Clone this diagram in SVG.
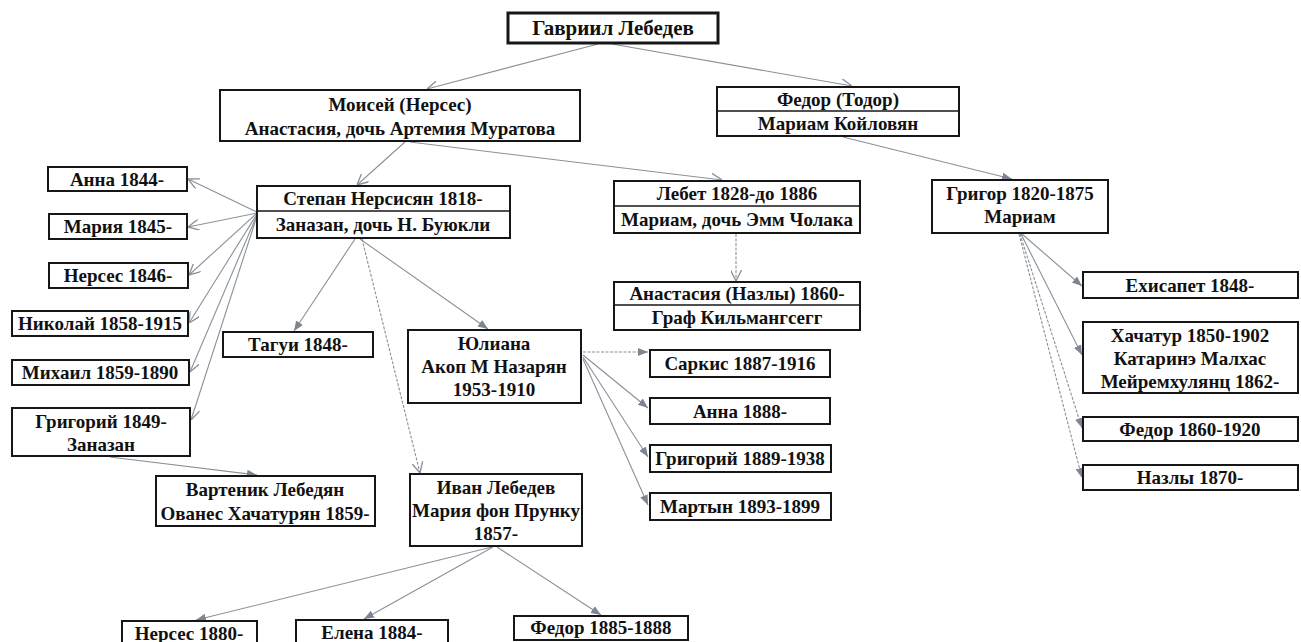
<svg xmlns="http://www.w3.org/2000/svg" width="1301" height="642" viewBox="0 0 1301 642">
  <style>
    .box { fill: #ffffff; stroke: #161616; stroke-width: 2; }
    .div { stroke: #161616; stroke-width: 1.6; }
    .t { font-family: "Liberation Serif", "Times New Roman", serif; font-weight: bold; font-size: 19px; fill: #111111; text-anchor: middle; }
    .big { font-size: 21px; }
    .c { fill: none; stroke: #8a919c; stroke-width: 1.1; }
    .open { marker-end: url(#openHead); }
    .fill { marker-end: url(#fillHead); }
    .dash { stroke-dasharray: 3 1.5; }
  </style>
  <defs>
    <marker id="openHead" viewBox="0 0 10 10" refX="10" refY="5" markerWidth="11" markerHeight="11" markerUnits="userSpaceOnUse" orient="auto">
      <path d="M0,0 L10,5 L0,10" fill="none" stroke="#8a919c" stroke-width="1.2"/>
    </marker>
    <marker id="fillHead" viewBox="0 0 10 10" refX="10" refY="5" markerWidth="10" markerHeight="10" markerUnits="userSpaceOnUse" orient="auto">
      <path d="M0,1 L10,5 L0,9 Z" fill="#7d8592"/>
    </marker>
  </defs>
  <rect width="1301" height="642" fill="#ffffff"/>

  <!-- connectors -->
  <g id="connectors">
    <line class="c open" x1="598" y1="44" x2="427" y2="89"/>
    <line class="c open" x1="612" y1="44" x2="852" y2="86"/>
    <line class="c open" x1="405" y1="142" x2="357" y2="185"/>
    <line class="c open" x1="410" y1="142" x2="722" y2="180"/>
    <line class="c fill" x1="843" y1="137" x2="1012" y2="179"/>

    <line class="c open" x1="257" y1="212" x2="188" y2="179"/>
    <line class="c open" x1="257" y1="213" x2="188" y2="227"/>
    <line class="c open" x1="257" y1="213" x2="189" y2="275"/>
    <line class="c open" x1="257" y1="214" x2="189" y2="323"/>
    <line class="c open" x1="257" y1="215" x2="190" y2="372"/>
    <line class="c open" x1="257" y1="216" x2="191" y2="420"/>

    <line class="c fill" x1="355" y1="239" x2="294" y2="331"/>
    <line class="c fill" x1="360" y1="239" x2="488" y2="329"/>
    <line class="c open dash" x1="362" y1="239" x2="420" y2="473"/>
    <line class="c open dash" x1="736" y1="234" x2="736" y2="281"/>
    <line class="c fill" x1="110" y1="457" x2="257" y2="475"/>

    <line class="c fill dash" x1="583" y1="352" x2="648" y2="352"/>
    <line class="c fill" x1="583" y1="355" x2="648" y2="408"/>
    <line class="c fill" x1="583" y1="357" x2="648" y2="457"/>
    <line class="c fill" x1="583" y1="359" x2="648" y2="505"/>

    <line class="c fill" x1="1022" y1="234" x2="1082" y2="286"/>
    <line class="c fill" x1="1021" y1="234" x2="1082" y2="355"/>
    <line class="c fill dash" x1="1020" y1="234" x2="1082" y2="428"/>
    <line class="c fill dash" x1="1019" y1="234" x2="1082" y2="478"/>

    <line class="c fill" x1="492" y1="547" x2="196" y2="620"/>
    <line class="c fill" x1="493" y1="547" x2="364" y2="619"/>
    <line class="c fill" x1="497" y1="547" x2="601" y2="615"/>
  </g>

  <!-- people -->
  <g id="gavriil">
    <rect x="508" y="13" width="210" height="30" fill="#fff" stroke="#161616" stroke-width="3"/>
    <text class="t big" x="613" y="35">Гавриил Лебедев</text>
  </g>
  <g id="moisei">
    <rect class="box" x="220" y="90" width="360" height="51"/>
    <text class="t" x="400" y="111">Моисей (Нерсес)</text>
    <text class="t" x="400" y="135">Анастасия, дочь Артемия Муратова</text>
  </g>
  <g id="fedor-todor">
    <rect class="box" x="717" y="87" width="242" height="49"/>
    <line class="div" x1="717" y1="111" x2="959" y2="111"/>
    <text class="t" x="838" y="106">Федор (Тодор)</text>
    <text class="t" x="838" y="130">Мариам Койловян</text>
  </g>
  <g id="anna-1844">
    <rect class="box" x="48" y="167" width="139" height="24"/>
    <text class="t" x="117" y="186">Анна 1844-</text>
  </g>
  <g id="maria-1845">
    <rect class="box" x="49" y="214" width="138" height="25"/>
    <text class="t" x="118" y="233">Мария 1845-</text>
  </g>
  <g id="nerses-1846">
    <rect class="box" x="49" y="263" width="139" height="25"/>
    <text class="t" x="118" y="282">Нерсес 1846-</text>
  </g>
  <g id="nikolai">
    <rect class="box" x="12" y="311" width="176" height="25"/>
    <text class="t" x="100" y="330">Николай 1858-1915</text>
  </g>
  <g id="mikhail">
    <rect class="box" x="12" y="360" width="177" height="25"/>
    <text class="t" x="100" y="379">Михаил 1859-1890</text>
  </g>
  <g id="grigorii-1849">
    <rect class="box" x="12" y="408" width="178" height="48"/>
    <text class="t" x="101" y="428">Григорий 1849-</text>
    <text class="t" x="101" y="451">Заназан</text>
  </g>
  <g id="stepan">
    <rect class="box" x="257" y="186" width="253" height="52"/>
    <line class="div" x1="257" y1="211" x2="510" y2="211"/>
    <text class="t" x="383" y="205">Степан Нерсисян 1818-</text>
    <text class="t" x="383" y="231">Заназан, дочь Н. Буюкли</text>
  </g>
  <g id="lebet">
    <rect class="box" x="614" y="181" width="246" height="52"/>
    <line class="div" x1="614" y1="206" x2="860" y2="206"/>
    <text class="t" x="737" y="200">Лебет 1828-до 1886</text>
    <text class="t" x="737" y="226">Мариам, дочь Эмм Чолака</text>
  </g>
  <g id="grigor">
    <rect class="box" x="932" y="180" width="176" height="53"/>
    <text class="t" x="1020" y="200">Григор 1820-1875</text>
    <text class="t" x="1020" y="223">Мариам</text>
  </g>
  <g id="anastasia">
    <rect class="box" x="614" y="282" width="246" height="48"/>
    <line class="div" x1="614" y1="305" x2="860" y2="305"/>
    <text class="t" x="737" y="300">Анастасия (Назлы) 1860-</text>
    <text class="t" x="737" y="324">Граф Кильмангсегг</text>
  </g>
  <g id="tagui">
    <rect class="box" x="223" y="332" width="150" height="25"/>
    <text class="t" x="298" y="351">Тагуи 1848-</text>
  </g>
  <g id="yuliana">
    <rect class="box" x="408" y="330" width="173" height="73"/>
    <text class="t" x="494" y="350">Юлиана</text>
    <text class="t" x="494" y="373">Акоп М Назарян</text>
    <text class="t" x="494" y="396">1953-1910</text>
  </g>
  <g id="sarkis">
    <rect class="box" x="650" y="350" width="180" height="27"/>
    <text class="t" x="740" y="370">Саркис 1887-1916</text>
  </g>
  <g id="anna-1888">
    <rect class="box" x="650" y="398" width="180" height="26"/>
    <text class="t" x="740" y="418">Анна 1888-</text>
  </g>
  <g id="grigorii-1889">
    <rect class="box" x="650" y="445" width="181" height="27"/>
    <text class="t" x="740" y="465">Григорий 1889-1938</text>
  </g>
  <g id="martyn">
    <rect class="box" x="650" y="493" width="181" height="27"/>
    <text class="t" x="740" y="513">Мартын 1893-1899</text>
  </g>
  <g id="vartenik">
    <rect class="box" x="156" y="476" width="219" height="50"/>
    <text class="t" x="265" y="496">Вартеник Лебедян</text>
    <text class="t" x="265" y="520">Ованес Хачатурян 1859-</text>
  </g>
  <g id="ivan">
    <rect class="box" x="410" y="474" width="172" height="72"/>
    <text class="t" x="496" y="494">Иван Лебедев</text>
    <text class="t" x="496" y="517">Мария фон Прунку</text>
    <text class="t" x="496" y="540">1857-</text>
  </g>
  <g id="nerses-1880">
    <rect class="box" x="122" y="621" width="135" height="30"/>
    <text class="t" x="189" y="640">Нерсес 1880-</text>
  </g>
  <g id="elena">
    <rect class="box" x="296" y="620" width="152" height="30"/>
    <text class="t" x="372" y="639">Елена 1884-</text>
  </g>
  <g id="fedor-1885">
    <rect class="box" x="514" y="616" width="174" height="24"/>
    <text class="t" x="601" y="634">Федор 1885-1888</text>
  </g>
  <g id="ekhisapet">
    <rect class="box" x="1083" y="272" width="215" height="26"/>
    <text class="t" x="1190" y="292">Ехисапет 1848-</text>
  </g>
  <g id="khachatur">
    <rect class="box" x="1083" y="322" width="215" height="71"/>
    <text class="t" x="1190" y="342">Хачатур 1850-1902</text>
    <text class="t" x="1190" y="365">Катаринэ Малхас</text>
    <text class="t" x="1190" y="388">Мейремхулянц 1862-</text>
  </g>
  <g id="fedor-1860">
    <rect class="box" x="1083" y="417" width="215" height="24"/>
    <text class="t" x="1190" y="436">Федор 1860-1920</text>
  </g>
  <g id="nazly">
    <rect class="box" x="1083" y="465" width="215" height="25"/>
    <text class="t" x="1190" y="484">Назлы 1870-</text>
  </g>
</svg>
